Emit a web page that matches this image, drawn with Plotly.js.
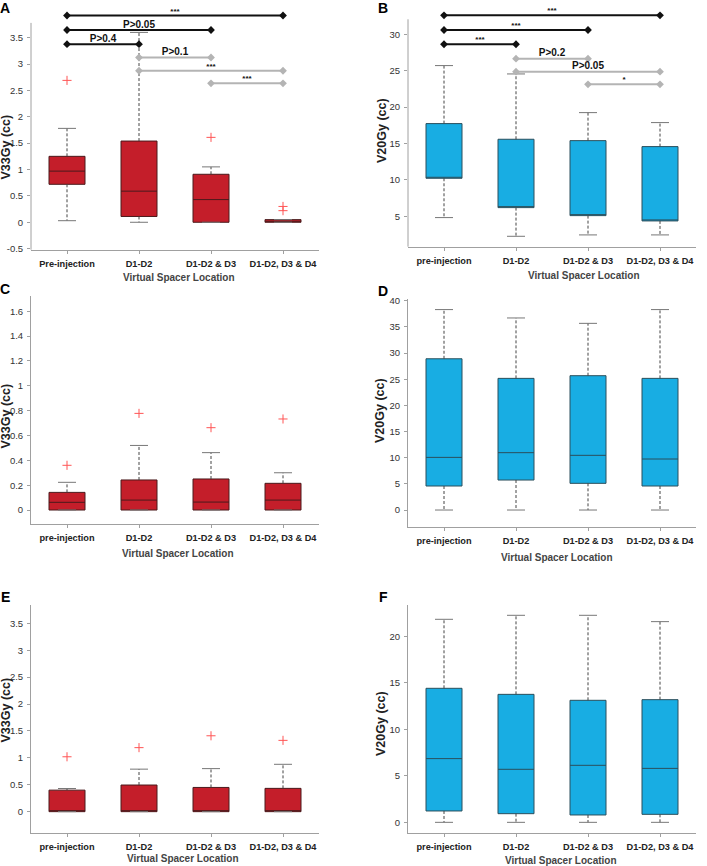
<!DOCTYPE html>
<html><head><meta charset="utf-8">
<script src="https://cdn.plot.ly/plotly-3.0.1.min.js"></script>
<style>html,body{margin:0;padding:0;background:#fff}#chart{width:707px;height:866px}</style>
</head><body><div id="chart"></div>
<script>
// ---------------- DATA ----------------
const categoryPos = [0, 1, 2, 3];
const labelsA = ['Pre-injection', 'D1-D2', 'D1-D2 & D3', 'D1-D2, D3 & D4'];
const labelsRest = ['pre-injection', 'D1-D2', 'D1-D2 & D3', 'D1-D2, D3 & D4'];

// Panel A: V33Gy (cc)
const A_q1 = [0.72, 0.11, 0.00, 0.00];
const A_med = [0.97, 0.59, 0.43, 0.00];
const A_q3 = [1.25, 1.54, 0.91, 0.05];
const A_lo = [0.03, 0.00, 0.00, 0.00];
const A_hi = [1.78, 3.60, 1.05, 0.05];
const A_outX = [0, 2, 3, 3];
const A_outY = [2.69, 1.61, 0.30, 0.22];
const A_brFrom = [0, 0, 0, 1, 1, 2];
const A_brTo = [3, 2, 1, 2, 3, 3];
const A_brY = [3.92, 3.645, 3.376, 3.124, 2.873, 2.635];
const A_brLabel = ['***', 'P>0.05', 'P>0.4', 'P>0.1', '***', '***'];
const A_brGray = [false, false, false, true, true, true];

// Panel B: V20Gy (cc)
const B_q1 = [10.22, 6.19, 5.09, 4.36];
const B_med = [10.22, 6.19, 5.09, 4.36];
const B_q3 = [17.73, 15.58, 15.39, 14.57];
const B_lo = [4.82, 2.25, 2.44, 2.44];
const B_hi = [25.70, 24.55, 19.24, 17.87];
const B_brFrom = [0, 0, 0, 1, 1, 2];
const B_brTo = [3, 2, 1, 2, 3, 3];
const B_brY = [32.6, 30.59, 28.63, 26.65, 24.86, 23.13];
const B_brLabel = ['***', '***', '***', 'P>0.2', 'P>0.05', '*'];
const B_brGray = [false, false, false, true, true, true];

// Panel C: V33Gy (cc)
const C_q1 = [0, 0, 0, 0];
const C_med = [0.062, 0.080, 0.064, 0.080];
const C_q3 = [0.142, 0.242, 0.250, 0.215];
const C_lo = [0, 0, 0, 0];
const C_hi = [0.223, 0.520, 0.462, 0.300];
const C_outX = [0, 1, 2, 3];
const C_outY = [0.36, 0.778, 0.663, 0.733];

// Panel D: V20Gy (cc)
const D_q1 = [4.59, 5.73, 5.10, 4.59];
const D_med = [10.06, 10.96, 10.45, 9.75];
const D_q3 = [28.90, 25.16, 25.67, 25.16];
const D_lo = [0, 0, 0, 0];
const D_hi = [38.30, 36.70, 35.67, 38.30];

// Panel E: V33Gy (cc)
const E_q1 = [0, 0, 0, 0];
const E_med = [0, 0, 0, 0];
const E_q3 = [0.400, 0.495, 0.450, 0.433];
const E_lo = [0, 0, 0, 0];
const E_hi = [0.43, 0.79, 0.80, 0.88];
const E_outX = [0, 1, 2, 3];
const E_outY = [1.02, 1.19, 1.41, 1.325];

// Panel F: V20Gy (cc)
const F_q1 = [1.22, 0.93, 0.79, 0.86];
const F_med = [6.85, 5.70, 6.13, 5.80];
const F_q3 = [14.41, 13.76, 13.12, 13.19];
const F_lo = [0, 0, 0, 0];
const F_hi = [21.83, 22.26, 22.26, 21.58];

// ---------------- STYLE / LAYOUT ----------------
const W = 707, H = 866;
const FONT = 'Liberation Sans, Arial, sans-serif';
const RED = '#c41e2a', RED_LINE = '#4a1a1c';
const BLUE = '#18ade3', BLUE_LINE = '#2b4f5c';

const panels = [
  {id: '', letter: 'A', q1: A_q1, med: A_med, q3: A_q3, lo: A_lo, hi: A_hi, outX: A_outX, outY: A_outY,
   br: {from: A_brFrom, to: A_brTo, y: A_brY, label: A_brLabel, gray: A_brGray},
   fill: RED, line: RED_LINE, labels: labelsA, ytitle: 'V33Gy (cc)',
   xPx: [31, 319], range: [-0.52, 4.0], yPx: [249.7, 11.3], axisTop: 3.78,
   tickvals: [-0.5, 0, 0.5, 1, 1.5, 2, 2.5, 3, 3.5], ticktext: ['-0.5', '0', '0.5', '1', '1.5', '2', '2.5', '3', '3.5'],
   letterPos: [5, 8], ytitlePos: [5.5, 147], xtitlePos: [179, 277]},
  {id: '2', letter: 'B', q1: B_q1, med: B_med, q3: B_q3, lo: B_lo, hi: B_hi, outX: [], outY: [],
   br: {from: B_brFrom, to: B_brTo, y: B_brY, label: B_brLabel, gray: B_brGray},
   fill: BLUE, line: BLUE_LINE, labels: labelsRest, ytitle: 'V20Gy (cc)',
   xPx: [408, 696], range: [0.82, 33.5], yPx: [246.7, 8.8], axisTop: 32.06,
   tickvals: [5, 10, 15, 20, 25, 30], ticktext: ['5', '10', '15', '20', '25', '30'],
   letterPos: [383, 8], ytitlePos: [382, 131], xtitlePos: [584, 275]},
  {id: '3', letter: 'C', q1: C_q1, med: C_med, q3: C_q3, lo: C_lo, hi: C_hi, outX: C_outX, outY: C_outY,
   fill: RED, line: RED_LINE, labels: labelsRest, ytitle: 'V33Gy (cc)',
   xPx: [31, 319], range: [-0.115, 1.72], yPx: [524.3, 296.4],
   tickvals: [0, 0.2, 0.4, 0.6, 0.8, 1, 1.2, 1.4, 1.6], ticktext: ['0', '0.2', '0.4', '0.6', '0.8', '1', '1.2', '1.4', '1.6'],
   letterPos: [5, 289], ytitlePos: [5.5, 416], xtitlePos: [178, 553]},
  {id: '4', letter: 'D', q1: D_q1, med: D_med, q3: D_q3, lo: D_lo, hi: D_hi, outX: [], outY: [],
   fill: BLUE, line: BLUE_LINE, labels: labelsRest, ytitle: 'V20Gy (cc)',
   xPx: [408, 696], range: [-3.3, 40.4], yPx: [527.3, 298.6],
   tickvals: [0, 5, 10, 15, 20, 25, 30, 35, 40], ticktext: ['0', '5', '10', '15', '20', '25', '30', '35', '40'],
   letterPos: [383, 291], ytitlePos: [380, 411], xtitlePos: [557, 557]},
  {id: '5', letter: 'E', q1: E_q1, med: E_med, q3: E_q3, lo: E_lo, hi: E_hi, outX: E_outX, outY: E_outY,
   fill: RED, line: RED_LINE, labels: labelsRest, ytitle: 'V33Gy (cc)',
   xPx: [31, 319], range: [-0.40, 3.84], yPx: [833.2, 605.0],
   tickvals: [0, 0.5, 1, 1.5, 2, 2.5, 3, 3.5], ticktext: ['0', '0.5', '1', '1.5', '2', '2.5', '3', '3.5'],
   letterPos: [5, 597], ytitlePos: [5.5, 710], xtitlePos: [183, 858]},
  {id: '6', letter: 'F', q1: F_q1, med: F_med, q3: F_q3, lo: F_lo, hi: F_hi, outX: [], outY: [],
   fill: BLUE, line: BLUE_LINE, labels: labelsRest, ytitle: 'V20Gy (cc)',
   xPx: [408, 696], range: [-1.18, 23.4], yPx: [833.3, 604.7],
   tickvals: [0, 5, 10, 15, 20], ticktext: ['0', '5', '10', '15', '20'],
   letterPos: [383, 597], ytitlePos: [381, 723], xtitlePos: [561, 860]}
];

const traces = [];
const layout = {
  width: W, height: H, margin: {l: 0, r: 0, t: 0, b: 0},
  paper_bgcolor: '#fff', plot_bgcolor: '#fff', showlegend: false,
  font: {family: FONT, color: '#333'},
  annotations: [], shapes: []
};

const CAP = 0.125;
panels.forEach(p => {
  const xa = 'x' + p.id, ya = 'y' + p.id;
  // whiskers (dashed) and caps
  const wx = [], wy = [], cx = [], cy = [];
  categoryPos.forEach((c, i) => {
    wx.push(c, c, null, c, c, null);
    wy.push(p.q3[i], p.hi[i], null, p.q1[i], p.lo[i], null);
    cx.push(c - CAP, c + CAP, null, c - CAP, c + CAP, null);
    cy.push(p.hi[i], p.hi[i], null, p.lo[i], p.lo[i], null);
  });
  traces.push({type: 'scatter', mode: 'lines', x: wx, y: wy, xaxis: xa, yaxis: ya,
    line: {color: '#444', width: 1, dash: '3px,2px'}, hoverinfo: 'skip'});
  traces.push({type: 'scatter', mode: 'lines', x: cx, y: cy, xaxis: xa, yaxis: ya,
    line: {color: '#777', width: 1}, hoverinfo: 'skip'});
  // boxes
  traces.push({type: 'box', x: categoryPos, q1: p.q1, median: p.med, q3: p.q3,
    lowerfence: p.q1, upperfence: p.q3, width: 0.5, whiskerwidth: 0, boxpoints: false,
    fillcolor: p.fill, line: {color: p.line, width: 1}, xaxis: xa, yaxis: ya, hoverinfo: 'skip'});
  // outliers
  if (p.outX.length) {
    traces.push({type: 'scatter', mode: 'markers', x: p.outX, y: p.outY, xaxis: xa, yaxis: ya,
      marker: {symbol: 'cross-thin', size: 6.5, line: {color: '#ff5555', width: 1}}, hoverinfo: 'skip'});
  }
  // significance brackets
  if (p.br) {
    ['black', 'gray'].forEach(g => {
      const bx = [], by = [];
      p.br.from.forEach((f, i) => {
        if ((g === 'gray') !== p.br.gray[i]) return;
        bx.push(f, p.br.to[i], null);
        by.push(p.br.y[i], p.br.y[i], null);
      });
      const col = g === 'gray' ? '#b4b4b4' : '#111';
      traces.push({type: 'scatter', mode: 'lines+markers', x: bx, y: by, xaxis: xa, yaxis: ya,
        line: {color: col, width: 2}, marker: {symbol: 'diamond', size: 6, color: col},
        hoverinfo: 'skip', cliponaxis: false});
    });
    const tx = p.br.from.map((f, i) => (f + p.br.to[i]) / 2);
    traces.push({type: 'scatter', mode: 'text', x: tx, y: p.br.y, text: p.br.label,
      textposition: 'top center', xaxis: xa, yaxis: ya, cliponaxis: false, hoverinfo: 'skip',
      textfont: {family: FONT, color: '#111', weight: 'bold',
        size: p.br.label.map(l => l.startsWith('*') ? 8 : 10)}});
  }

  const dom = [1 - p.yPx[0] / H, 1 - p.yPx[1] / H];
  const xdom = [p.xPx[0] / W, p.xPx[1] / W];
  const xkey = 'xaxis' + p.id, ykey = 'yaxis' + p.id;
  layout[xkey] = {domain: xdom, anchor: ya, range: [-0.5, 3.5], tickvals: categoryPos, ticktext: p.labels,
    showline: true, linecolor: '#a0a0a0', linewidth: 1, ticks: 'outside', ticklen: 3, tickcolor: '#a0a0a0',
    showgrid: false, zeroline: false, fixedrange: true, ticklabelstandoff: 2,
    tickfont: {family: FONT, size: 9.2, color: '#222', weight: 'bold'}};
  layout[ykey] = {domain: dom, anchor: xa, range: p.range, tickvals: p.tickvals, ticktext: p.ticktext,
    showline: !p.axisTop, linecolor: '#a0a0a0', linewidth: 1, ticks: 'outside', ticklen: 3, tickcolor: '#a0a0a0',
    showgrid: false, zeroline: false, fixedrange: true, ticklabelstandoff: 2,
    tickfont: {family: FONT, size: 9.5, color: '#333'}};
  if (p.axisTop) {
    const toPaper = v => dom[0] + (v - p.range[0]) / (p.range[1] - p.range[0]) * (dom[1] - dom[0]);
    layout.shapes.push({type: 'line', xref: 'paper', yref: 'paper', x0: xdom[0], x1: xdom[0],
      y0: dom[0], y1: toPaper(p.axisTop), line: {color: '#a0a0a0', width: 1}});
  }
  // annotations: panel letter, y title, x title
  layout.annotations.push({xref: 'paper', yref: 'paper', x: p.letterPos[0] / W, y: 1 - p.letterPos[1] / H,
    xanchor: 'center', yanchor: 'middle', showarrow: false, text: p.letter,
    font: {family: FONT, size: 14, color: '#000', weight: 'bold'}});
  layout.annotations.push({xref: 'paper', yref: 'paper', x: p.ytitlePos[0] / W, y: 1 - p.ytitlePos[1] / H,
    xanchor: 'center', yanchor: 'middle', showarrow: false, text: p.ytitle, textangle: -90,
    font: {family: FONT, size: 12.5, color: '#222', weight: 'bold'}});
  layout.annotations.push({xref: 'paper', yref: 'paper', x: p.xtitlePos[0] / W, y: 1 - p.xtitlePos[1] / H,
    xanchor: 'center', yanchor: 'middle', showarrow: false, text: 'Virtual Spacer Location',
    font: {family: FONT, size: 10, color: '#444', weight: 'bold'}});
});

Plotly.newPlot('chart', traces, layout, {displayModeBar: false, staticPlot: true});
</script>
</body></html>
